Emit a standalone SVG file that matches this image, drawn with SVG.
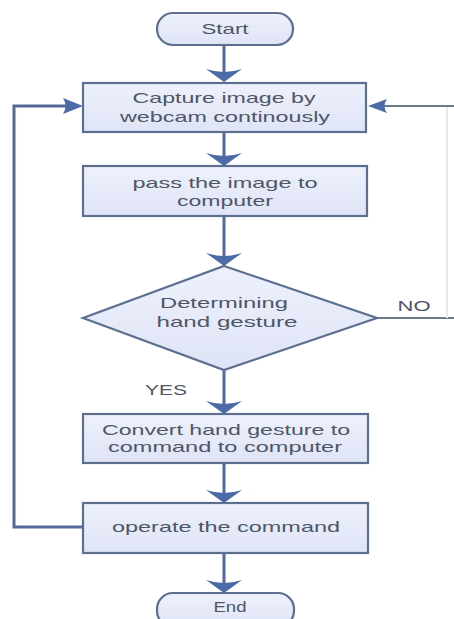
<svg xmlns="http://www.w3.org/2000/svg" width="454" height="619" viewBox="0 0 454 619">
<defs>
<linearGradient id="g" x1="0" y1="0" x2="0" y2="1">
<stop offset="0" stop-color="#eef1fc"/>
<stop offset="1" stop-color="#dfe4f6"/>
</linearGradient>
<style>
.box{fill:url(#g);stroke:#5d6f90;stroke-width:2.2}
.t{font-family:"Liberation Sans",Arial,sans-serif;font-size:15px;fill:#4e5668;text-anchor:middle}
.ln{fill:none;stroke:#52699a;stroke-width:3}
.thin{fill:none;stroke:#6d7a8e;stroke-width:1.8}
.ah{fill:#4b6aa8}
</style>
</defs>
<rect width="454" height="619" fill="#ffffff"/>
<g id="connectors">
<line class="ln" x1="224" y1="45" x2="224" y2="74"/>
<path class="ah" d="M224,82 L206,69 Q224,75 242,69 Z"/>
<line class="ln" x1="224" y1="132" x2="224" y2="158"/>
<path class="ah" d="M224,166 L206,153 Q224,159 242,153 Z"/>
<line class="ln" x1="224" y1="216" x2="224" y2="258"/>
<path class="ah" d="M224,266 L206,253 Q224,259 242,253 Z"/>
<line class="ln" x1="224" y1="370" x2="224" y2="406"/>
<path class="ah" d="M224,414 L206,401 Q224,407 242,401 Z"/>
<line class="ln" x1="224" y1="463" x2="224" y2="495"/>
<path class="ah" d="M224,503 L206,490 Q224,496 242,490 Z"/>
<line class="ln" x1="224" y1="553" x2="224" y2="585"/>
<path class="ah" d="M224,593 L206,580 Q224,586 242,580 Z"/>
<polyline class="ln" points="83,527 14,527 14,106 66,106"/>
<path class="ah" d="M83,106 L63,98 Q68,106 63,114 Z"/>
<line class="thin" x1="377" y1="318" x2="454" y2="318"/>
<line x1="447" y1="106" x2="447" y2="318" stroke="#e6e9ee" stroke-width="2"/>
<line class="thin" x1="454" y1="106" x2="384" y2="106"/>
<path class="ah" d="M368,106 L387,99 Q382,106 387,113 Z"/>
<text class="t" x="414" y="311" textLength="33" lengthAdjust="spacingAndGlyphs">NO</text>
<text class="t" x="166" y="395" textLength="42" lengthAdjust="spacingAndGlyphs">YES</text>
</g>
<g id="start">
<rect class="box" x="157" y="13" width="136" height="32" rx="16"/>
<text class="t" x="225" y="34" textLength="47" lengthAdjust="spacingAndGlyphs">Start</text>
</g>
<g id="capture">
<rect class="box" x="83" y="83" width="283" height="49"/>
<text class="t" x="224" y="103" textLength="183" lengthAdjust="spacingAndGlyphs">Capture image by</text>
<text class="t" x="225" y="122" textLength="210" lengthAdjust="spacingAndGlyphs">webcam continously</text>
</g>
<g id="pass">
<rect class="box" x="83" y="166" width="284" height="50"/>
<text class="t" x="225" y="188" textLength="185" lengthAdjust="spacingAndGlyphs">pass the image to</text>
<text class="t" x="225" y="206" textLength="96" lengthAdjust="spacingAndGlyphs">computer</text>
</g>
<g id="decision">
<polygon class="box" points="224,266 377,318 224,370 83,318"/>
<text class="t" x="224" y="308" textLength="128" lengthAdjust="spacingAndGlyphs">Determining</text>
<text class="t" x="227" y="327" textLength="141" lengthAdjust="spacingAndGlyphs">hand  gesture</text>
</g>
<g id="convert">
<rect class="box" x="83" y="414" width="285" height="49"/>
<text class="t" x="226" y="435" textLength="248" lengthAdjust="spacingAndGlyphs">Convert hand gesture to</text>
<text class="t" x="225" y="452" textLength="234" lengthAdjust="spacingAndGlyphs">command to computer</text>
</g>
<g id="operate">
<rect class="box" x="83" y="503" width="285" height="50"/>
<text class="t" x="226" y="532" textLength="228" lengthAdjust="spacingAndGlyphs">operate the command</text>
</g>
<g id="end">
<rect class="box" x="157" y="593" width="137" height="34" rx="16"/>
<text class="t" x="230" y="612" textLength="33" lengthAdjust="spacingAndGlyphs">End</text>
</g>
</svg>
